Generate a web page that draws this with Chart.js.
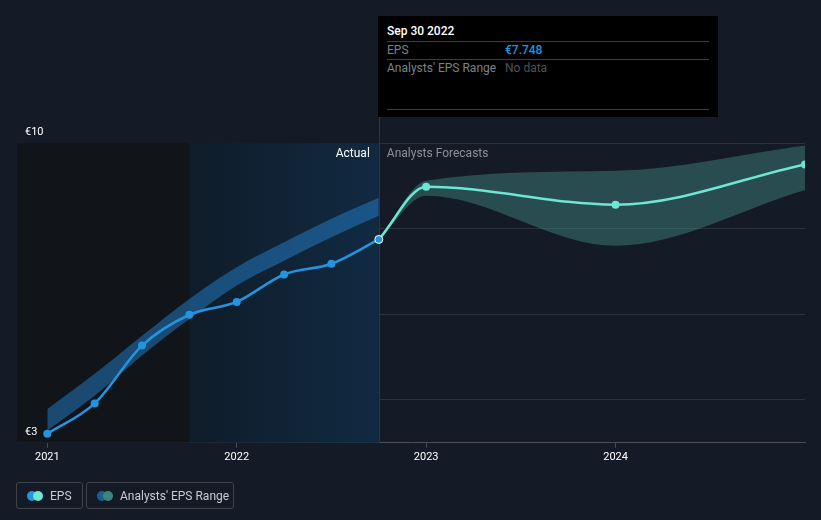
<!DOCTYPE html>
<html>
<head>
<meta charset="utf-8">
<script src="https://cdn.jsdelivr.net/npm/chart.js@4/dist/chart.umd.min.js"></script>
<style>
  html, body { margin: 0; padding: 0; background: #151b26; }
  body { width: 821px; height: 520px; position: relative; overflow: hidden; font-family: Roboto, "Noto Sans", sans-serif; }
  #wrap { position: absolute; left: 0; top: 0; width: 821px; height: 520px; }
  .tip { position: absolute; left: 378px; top: 16px; width: 340px; height: 101px; background: #000; box-sizing: border-box; padding: 0 9px; }
  .tip .title { color: #fff; font-size: 12px; font-weight: 500; height: 25px; line-height: 30px; border-bottom: 1px solid #3a3d42; }
  .tip .row { display: flex; font-size: 12px; height: 17px; line-height: 16px; border-bottom: 1px solid #3a3d42; color: #7d828a; }
  .tip .row.last { height: 49px; }
  .tip .row span:first-child { width: 118px; }
  .legend { position: absolute; top: 482px; height: 27px; border: 1px solid #3e434b; border-radius: 3px; box-sizing: border-box; color: #c9ccd1; font-size: 12px; display: flex; align-items: center; white-space: nowrap; }
  .dots { position: relative; width: 16px; height: 10px; margin-left: 10px; margin-right: 7px; flex: none; }
  .dots i { position: absolute; top: 0; width: 10px; height: 10px; border-radius: 50%; }
</style>
</head>
<body>
<div id="wrap"><canvas id="epsChart" width="821" height="520"></canvas></div>

<div class="tip">
  <div class="title">Sep 30 2022</div>
  <div class="row"><span>EPS</span><span style="color:#2394df;font-weight:500">€7.748</span></div>
  <div class="row last"><span>Analysts' EPS Range</span><span style="color:#4f535a">No data</span></div>
</div>

<div class="legend" style="left:16px;width:67px;">
  <div class="dots"><i style="left:0;background:#2394df"></i><i style="left:6px;background:#6de6d3"></i></div>EPS
</div>
<div class="legend" style="left:86px;width:148px;">
  <div class="dots"><i style="left:0;background:#1f5f8f"></i><i style="left:6px;background:#3b8581"></i></div>Analysts' EPS Range
</div>

<script>
// EPS (EUR), x as decimal years
const actualYears = [2021.0, 2021.25, 2021.5, 2021.75, 2022.0, 2022.25, 2022.5, 2022.75];
const actualEps = [3.21, 3.92, 5.27, 5.99, 6.29, 6.93, 7.18, 7.748];

const pastRangeHigh = [3.79, 4.61, 5.50, 6.36, 7.10, 7.68, 8.23, 8.72];
const pastRangeLow = [3.29, 4.10, 5.04, 5.89, 6.67, 7.25, 7.80, 8.30];

const forecastYears = [2022.75, 2023.0, 2024.0, 2025.0];
const forecastEps = [7.748, 8.98, 8.56, 9.50];
const forecastHigh = [7.748, 9.12, 9.35, 9.94];
const forecastLow = [7.748, 8.77, 7.60, 8.90];

const yearTicks = [2021, 2022, 2023, 2024];
const yTicks = [3, 4, 6, 8, 10];
const yLabels = [3, 10];

const xy = (xs, ys) => xs.map((x, i) => ({ x: x, y: ys[i] }));

// background shading + labels
const decorPlugin = {
    id: 'decor',
    beforeDatasetsDraw(chart) {
        const { ctx, chartArea: a, scales: { x } } = chart;
        const x1 = x.getPixelForValue(2021.75);
        const x2 = x.getPixelForValue(2022.75);
        ctx.save();
        ctx.fillStyle = '#111419';
        ctx.fillRect(a.left, a.top, x1 - a.left, a.bottom - a.top);
        const g = ctx.createLinearGradient(x1, 0, x2, 0);
        g.addColorStop(0, '#0f1c29');
        g.addColorStop(1, '#112a42');
        ctx.fillStyle = g;
        ctx.fillRect(x1, a.top, x2 - x1, a.bottom - a.top);
        ctx.strokeStyle = '#1d3a55';
        ctx.lineWidth = 1;
        ctx.beginPath();
        ctx.moveTo(Math.round(x2) + 0.5, 117);
        ctx.lineTo(Math.round(x2) + 0.5, a.bottom);
        ctx.stroke();
        ctx.restore();
    },
    afterDraw(chart) {
        const { ctx, scales: { x, y } } = chart;
        const xs = x.getPixelForValue(2022.75);
        ctx.save();
        ctx.font = '12px Roboto, sans-serif';
        ctx.textBaseline = 'middle';
        ctx.textAlign = 'right';
        ctx.fillStyle = '#ffffff';
        ctx.fillText('Actual', xs - 9, 154);
        ctx.textAlign = 'left';
        ctx.fillStyle = '#8c9097';
        ctx.fillText('Analysts Forecasts', xs + 8, 154);
        ctx.fillStyle = '#ffffff';
        ctx.font = '11px Roboto, sans-serif';
        yLabels.forEach(v => {
            ctx.fillText('€' + v, 25, y.getPixelForValue(v) - 11);
        });
        ctx.restore();
    }
};

const ctx = document.getElementById('epsChart').getContext('2d');

new Chart(ctx, {
    type: 'line',
    data: {
        datasets: [
            {
                label: 'EPS',
                data: xy(actualYears, actualEps),
                borderColor: '#2394df',
                backgroundColor: '#2394df',
                borderWidth: 2.5,
                pointRadius: 4,
                pointBackgroundColor: '#2394df',
                pointBorderColor: actualYears.map((v, i) => i === actualYears.length - 1 ? '#ffffff' : '#2394df'),
                pointBorderWidth: actualYears.map((v, i) => i === actualYears.length - 1 ? 1 : 0),
                cubicInterpolationMode: 'monotone',
                fill: false
            },
            {
                label: 'EPS forecast',
                data: xy(forecastYears, forecastEps),
                borderColor: '#6de6d3',
                backgroundColor: '#6de6d3',
                borderWidth: 2.5,
                pointRadius: forecastYears.map((v, i) => i === 0 ? 0 : 4),
                pointBorderWidth: 0,
                cubicInterpolationMode: 'monotone',
                fill: false
            },
            {
                label: 'Range high',
                data: xy(actualYears, pastRangeHigh),
                borderWidth: 0,
                pointRadius: 0,
                backgroundColor: 'rgba(36,128,204,0.5)',
                cubicInterpolationMode: 'monotone',
                fill: '+1'
            },
            {
                label: 'Range low',
                data: xy(actualYears, pastRangeLow),
                borderWidth: 0,
                pointRadius: 0,
                cubicInterpolationMode: 'monotone',
                fill: false
            },
            {
                label: 'Forecast high',
                data: xy(forecastYears, forecastHigh),
                borderWidth: 0,
                pointRadius: 0,
                backgroundColor: 'rgba(64,138,130,0.45)',
                cubicInterpolationMode: 'monotone',
                fill: '+1'
            },
            {
                label: 'Forecast low',
                data: xy(forecastYears, forecastLow),
                borderWidth: 0,
                pointRadius: 0,
                cubicInterpolationMode: 'monotone',
                fill: false
            }
        ]
    },
    options: {
        responsive: false,
        animation: false,
        layout: { padding: { left: 17, right: 16, top: 143, bottom: 53 } },
        plugins: {
            legend: { display: false },
            tooltip: { enabled: false }
        },
        scales: {
            x: {
                type: 'linear',
                min: 2020.84,
                max: 2025.0,
                afterBuildTicks: s => { s.ticks = yearTicks.map(v => ({ value: v })); },
                border: { color: '#4a4f57', width: 1 },
                grid: { drawOnChartArea: false, tickLength: 5, color: '#4a4f57' },
                ticks: {
                    color: '#ffffff',
                    font: { family: 'Roboto', size: 11 },
                    padding: 3,
                    maxRotation: 0,
                    callback: v => String(v)
                }
            },
            y: {
                min: 3,
                max: 10,
                afterBuildTicks: s => { s.ticks = yTicks.map(v => ({ value: v })); },
                border: { display: false },
                grid: {
                    drawTicks: false,
                    color: c => (c.tick && c.tick.value > 3) ? '#2b323d' : 'rgba(0,0,0,0)'
                },
                ticks: { display: false }
            }
        }
    },
    plugins: [decorPlugin]
});
</script>
</body>
</html>
